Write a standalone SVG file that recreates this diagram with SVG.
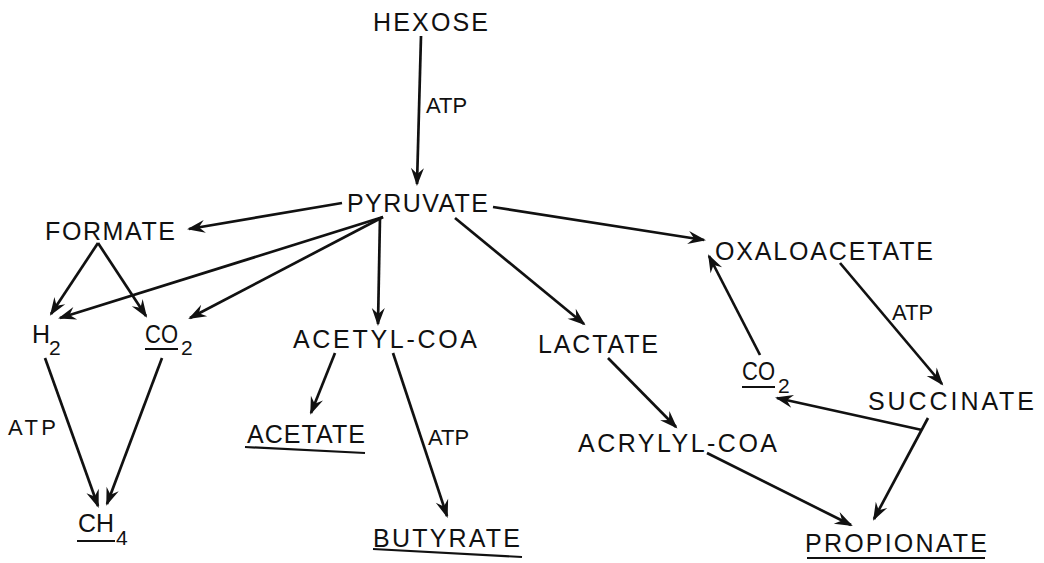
<svg xmlns="http://www.w3.org/2000/svg" width="1044" height="563" viewBox="0 0 1044 563">
<style>
text{font-family:"Liberation Sans",Arial,sans-serif;fill:#111}
.n{font-size:25px}
.s{font-size:21px}
.a{font-size:22px}
.e line{stroke:#111;stroke-width:2.7;fill:none}
.u{stroke:#111;stroke-width:2.2}
</style>
<defs>
<marker id="ah" viewBox="-18 -8 21 16" markerWidth="21" markerHeight="16" refX="0" refY="0" orient="auto" markerUnits="userSpaceOnUse">
<path d="M2,0 L-16,-6.5 L-10,0 L-16,6.5 Z" fill="#111"/>
</marker>
</defs>
<rect width="1044" height="563" fill="#fff"/>
<g class="e" id="connectors">
<line x1="421" y1="36" x2="417" y2="184" marker-end="url(#ah)"/>
<line x1="342" y1="203" x2="189" y2="229" marker-end="url(#ah)"/>
<line x1="383" y1="217" x2="60" y2="318" marker-end="url(#ah)"/>
<line x1="383" y1="217" x2="190" y2="318" marker-end="url(#ah)"/>
<line x1="380" y1="217" x2="378" y2="324" marker-end="url(#ah)"/>
<line x1="98" y1="243" x2="51" y2="314" marker-end="url(#ah)"/>
<line x1="98" y1="243" x2="146" y2="316" marker-end="url(#ah)"/>
<line x1="45" y1="358" x2="98" y2="506" marker-end="url(#ah)"/>
<line x1="162" y1="358" x2="107" y2="504" marker-end="url(#ah)"/>
<line x1="335" y1="353" x2="311" y2="413" marker-end="url(#ah)"/>
<line x1="393" y1="353" x2="447" y2="516" marker-end="url(#ah)"/>
<line x1="493" y1="207" x2="704" y2="240" marker-end="url(#ah)"/>
<line x1="455" y1="218" x2="584" y2="324" marker-end="url(#ah)"/>
<line x1="608" y1="358" x2="676" y2="427" marker-end="url(#ah)"/>
<line x1="707" y1="453" x2="851" y2="525" marker-end="url(#ah)"/>
<line x1="840" y1="263" x2="942" y2="384" marker-end="url(#ah)"/>
<line x1="922" y1="430" x2="777" y2="398" marker-end="url(#ah)"/>
<line x1="760" y1="355" x2="709" y2="256" marker-end="url(#ah)"/>
<line x1="928" y1="418" x2="874" y2="519" marker-end="url(#ah)"/>
</g>
<g id="labels">
<text class="a" x="426" y="113">ATP</text>
<text class="a" x="8" y="435" textLength="48" lengthAdjust="spacing">ATP</text>
<text class="a" x="428" y="445">ATP</text>
<text class="a" x="892" y="320">ATP</text>
</g>
<g id="hexose"><text class="n" x="373" y="31" textLength="115" lengthAdjust="spacing">HEXOSE</text></g>
<g id="pyruvate"><text class="n" x="347" y="212" textLength="141" lengthAdjust="spacing">PYRUVATE</text></g>
<g id="formate"><text class="n" x="45" y="240" textLength="130" lengthAdjust="spacing">FORMATE</text></g>
<g id="h2"><text class="n" x="32" y="343">H<tspan class="s" x="49" y="355">2</tspan></text></g>
<g id="co2-left"><text class="n" x="145" y="343"><tspan textLength="33" lengthAdjust="spacingAndGlyphs">CO</tspan><tspan class="s" x="181" y="355">2</tspan></text><line class="u" x1="145" y1="349" x2="178" y2="349"/></g>
<g id="acetyl-coa"><text class="n" x="293" y="348" textLength="184" lengthAdjust="spacing">ACETYL-COA</text></g>
<g id="lactate"><text class="n" x="538" y="353" textLength="120" lengthAdjust="spacing">LACTATE</text></g>
<g id="oxaloacetate"><text class="n" x="715" y="260" textLength="218" lengthAdjust="spacing">OXALOACETATE</text></g>
<g id="acetate"><text class="n" x="247" y="443" textLength="118" lengthAdjust="spacing">ACETATE</text><line class="u" x1="245" y1="447" x2="365" y2="453"/></g>
<g id="acrylyl-coa"><text class="n" x="578" y="452" textLength="199" lengthAdjust="spacing">ACRYLYL-COA</text></g>
<g id="co2-right"><text class="n" x="742" y="380"><tspan textLength="33" lengthAdjust="spacingAndGlyphs">CO</tspan><tspan class="s" x="778" y="393">2</tspan></text><line class="u" x1="742" y1="387" x2="775" y2="387"/></g>
<g id="succinate"><text class="n" x="868" y="410" textLength="166" lengthAdjust="spacing">SUCCINATE</text></g>
<g id="ch4"><text class="n" x="78" y="532"><tspan textLength="36" lengthAdjust="spacingAndGlyphs">CH</tspan><tspan class="s" x="116" y="545">4</tspan></text><line class="u" x1="77" y1="541" x2="115" y2="541"/></g>
<g id="butyrate"><text class="n" x="373" y="547" textLength="147" lengthAdjust="spacing">BUTYRATE</text><line class="u" x1="373" y1="549" x2="522" y2="557"/></g>
<g id="propionate"><text class="n" x="805" y="552" textLength="182" lengthAdjust="spacing">PROPIONATE</text><line class="u" x1="807" y1="558" x2="985" y2="558"/></g>
</svg>
